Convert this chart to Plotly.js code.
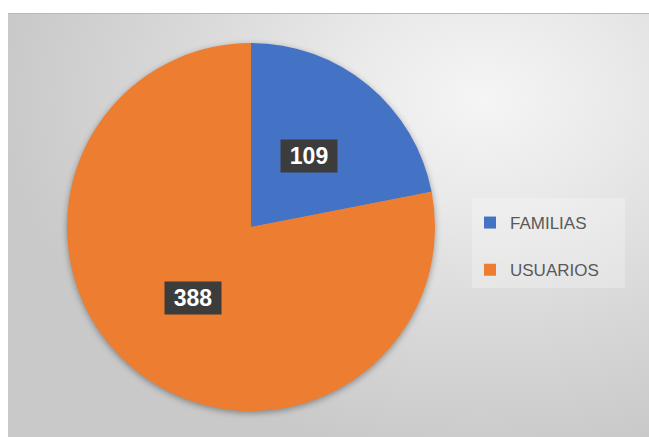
<!DOCTYPE html>
<html>
<head>
<meta charset="utf-8">
<script src="https://cdn.plot.ly/plotly-3.0.1.min.js"></script>
<style>
  html, body { margin: 0; padding: 0; background: #ffffff; }
  #wrap { position: relative; width: 649px; height: 437px; overflow: hidden; }
  #bg {
    position: absolute; left: 8px; top: 13px; width: 641px; height: 424px;
    background: radial-gradient(ellipse 75% 85% at 74% 20%, #f5f5f5 0%, #e9e9e9 30%, #d8d8d8 65%, #c9c9c9 100%);
    border-top: 1px solid #b9b9b9;
    box-sizing: border-box;
  }
  #chart { position: absolute; left: 0; top: 0; width: 649px; height: 437px; }
  .pielayer { filter: drop-shadow(0px 2px 3px rgba(0,0,0,0.35)); }
</style>
</head>
<body>
<div id="wrap">
  <div id="bg"></div>
  <div id="chart"></div>
</div>
<script>
const categories = ['FAMILIAS', 'USUARIOS'];
const values = [109, 388];
const colors = ['#4472C4', '#ED7D31'];

const W = 649, H = 437;
const cxPx = 251, cyPx = 210, R = 184;   // pie centre (from bottom) and radius in px
const domX = [(cxPx - R) / W, (cxPx + R) / W];
const domY = [(cyPx - R) / H, (cyPx + R) / H];

// data label positions: mid-angle of each slice, half the radius out
const total = values.reduce((a, b) => a + b, 0);
let cum = 0;
const annotations = values.map((v, i) => {
  const mid = (cum + v / 2) / total * 2 * Math.PI;
  cum += v;
  const x = cxPx + 0.5 * R * Math.sin(mid);
  const y = cyPx + 0.5 * R * Math.cos(mid);
  return {
    xref: 'paper', yref: 'paper', x: x / W, y: y / H,
    xanchor: 'center', yanchor: 'middle',
    text: String(v), showarrow: false,
    font: { family: 'Liberation Sans, Arial, sans-serif', size: 23, color: '#ffffff', weight: 'bold' },
    bgcolor: '#3c3c3c', borderpad: 3, width: 50, height: 26
  };
});

const trace = {
  type: 'pie',
  labels: categories.map(c => c + '<br> '),
  values: values,
  marker: { colors: colors, line: { width: 0 } },
  sort: false,
  direction: 'clockwise',
  rotation: 0,
  textinfo: 'none',
  hoverinfo: 'label+value',
  domain: { x: domX, y: domY }
};

const layout = {
  width: W, height: H,
  margin: { l: 0, r: 0, t: 0, b: 0 },
  paper_bgcolor: 'rgba(0,0,0,0)',
  plot_bgcolor: 'rgba(0,0,0,0)',
  showlegend: true,
  legend: {
    x: 470 / W, xanchor: 'left',
    y: (H - 205) / H, yanchor: 'top',
    bgcolor: 'rgba(0,0,0,0)',
    font: { family: 'Liberation Sans, Arial, sans-serif', size: 17, color: '#595959' },
    valign: 'top'
  },
  shapes: [{
    type: 'rect', xref: 'paper', yref: 'paper', layer: 'below',
    x0: 472 / W, x1: 625 / W, y0: (H - 288) / H, y1: (H - 198) / H,
    fillcolor: 'rgba(255,255,255,0.25)', line: { width: 0 }
  }],
  annotations: annotations
};

Plotly.newPlot('chart', [trace], layout, { staticPlot: true, displayModeBar: false });
</script>
</body>
</html>
